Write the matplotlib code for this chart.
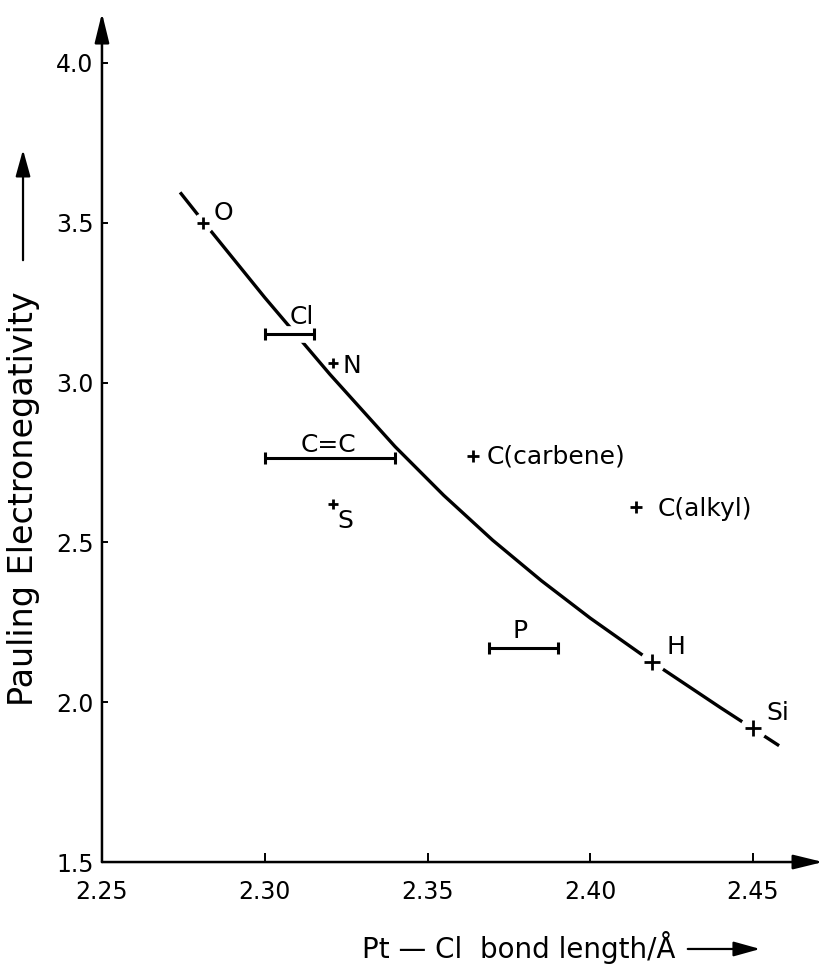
import matplotlib
matplotlib.use("Agg")
import matplotlib.pyplot as plt
from matplotlib import patheffects as pe
from matplotlib.patches import FancyArrowPatch

# smooth curve
curve_x = [2.274, 2.281, 2.300, 2.320, 2.340, 2.355, 2.370, 2.385, 2.400, 2.420, 2.440, 2.458]
curve_y = [3.595, 3.505, 3.266, 3.026, 2.800, 2.647, 2.507, 2.380, 2.263, 2.119, 1.983, 1.864]

# single points
pt_names = ["O", "N", "S", "C(carbene)", "C(alkyl)", "H", "Si"]
pt_x = [2.281, 2.321, 2.321, 2.364, 2.414, 2.419, 2.450]
pt_y = [3.50, 3.06, 2.62, 2.77, 2.61, 2.125, 1.918]

# ranges (horizontal bars)
bar_names = ["Cl", "C=C", "P"]
bar_lo = [2.300, 2.300, 2.369]
bar_hi = [2.315, 2.340, 2.390]
bar_y = [3.153, 2.764, 2.170]

xticks = [2.25, 2.30, 2.35, 2.40, 2.45]
yticks = [1.5, 2.0, 2.5, 3.0, 3.5, 4.0]

# label placement (x, y, ha)
pt_lab = {"O": (2.2844, 3.531, "left"), "N": (2.3240, 3.052, "left"),
          "S": (2.3247, 2.567, "center"), "C(carbene)": (2.3683, 2.770, "left"),
          "C(alkyl)": (2.4208, 2.605, "left"), "H": (2.4263, 2.173, "center"),
          "Si": (2.4577, 1.966, "center")}
pt_ms = {"O": 8, "N": 7, "S": 7, "C(carbene)": 9, "C(alkyl)": 9, "H": 11, "Si": 12}
bar_lab = {"Cl": (2.3114, 3.205), "C=C": (2.3197, 2.805), "P": (2.3784, 2.223)}
on_curve = ["O", "H", "Si"]

fig = plt.figure(figsize=(8.25, 9.65), dpi=100)
ax = fig.add_axes([0.1236, 0.1067, 0.874, 0.8798])
ax.set_xlim(2.25, 2.4715)
ax.set_ylim(1.5, 4.156)
for s in ax.spines.values():
    s.set_visible(False)

# axes with arrow heads
for xy, xyt in [((1, 0), (0, 0)), ((0, 1), (0, 0))]:
    ax.annotate("", xy=xy, xytext=xyt, xycoords="axes fraction", textcoords="axes fraction",
                arrowprops=dict(arrowstyle="-|>,head_length=0.9,head_width=0.22", lw=1.8,
                                color="black", shrinkA=0, shrinkB=0, mutation_scale=20))

ax.set_xticks(xticks)
ax.set_xticklabels([f"{v:.2f}" for v in xticks])
ax.set_yticks(yticks)
ax.set_yticklabels([f"{v:.1f}" for v in yticks])
ax.tick_params(axis="x", direction="in", length=6.5, width=1.4, pad=13, labelsize=17)
ax.tick_params(axis="y", direction="in", length=4, width=1.4, pad=6, labelsize=17)

ax.plot(curve_x, curve_y, color="black", lw=2.4, zorder=2, solid_capstyle="butt",
        solid_joinstyle="round")

for name, x, y in zip(pt_names, pt_x, pt_y):
    if name in on_curve:
        ax.plot(x, y, "o", ms=pt_ms[name] + 6, color="white", mec="white", zorder=3)
    ax.plot(x, y, "+", ms=pt_ms[name], mew=2, color="black", zorder=4)
    lx, ly, ha = pt_lab[name]
    ax.text(lx, ly, name, fontsize=18, ha=ha, va="center", zorder=5)

for name, lo, hi, y in zip(bar_names, bar_lo, bar_hi, bar_y):
    eb = ax.errorbar((lo + hi) / 2, y, xerr=(hi - lo) / 2, fmt="none", ecolor="black",
                     elinewidth=2.2, capsize=4.5, capthick=2.2, zorder=4)
    if name == "Cl":
        for art in eb.lines[2]:
            art.set_path_effects([pe.Stroke(linewidth=12, foreground="white"), pe.Normal()])
    lx, ly = bar_lab[name]
    ax.text(lx, ly, name, fontsize=18, ha="center", va="center", zorder=5)

# axis titles with arrows
fig.text(0.0279, 0.4830, "Pauling Electronegativity", rotation=90, fontsize=24,
         ha="center", va="center")
fig.text(0.4388, 0.0073, "Pt \u2014 Cl  bond length/\u00c5", fontsize=20, ha="left", va="baseline")
fig.add_artist(FancyArrowPatch(
    (0.0279, 0.7275), (0.0279, 0.8477), transform=fig.transFigure,
    arrowstyle="-|>,head_length=0.9,head_width=0.25", mutation_scale=18, lw=1.6, color="black"))
fig.add_artist(FancyArrowPatch(
    (0.8303, 0.0166), (0.9248, 0.0166), transform=fig.transFigure,
    arrowstyle="-|>,head_length=0.9,head_width=0.25", mutation_scale=18, lw=1.6, color="black"))

fig.savefig("out.png", dpi=100)
